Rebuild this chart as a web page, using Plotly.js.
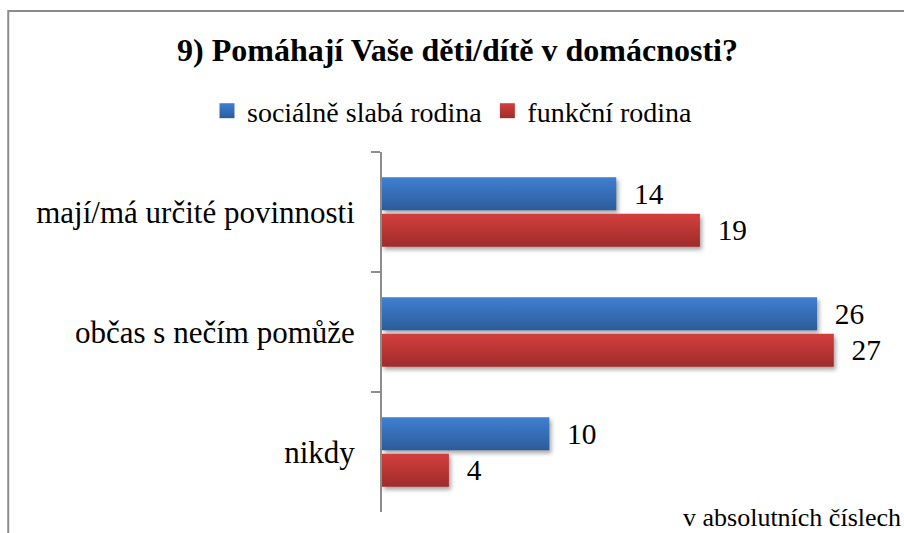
<!DOCTYPE html>
<html><head><meta charset="utf-8">
<script src="https://cdn.plot.ly/plotly-3.0.1.min.js"></script>
<style>
html,body{margin:0;padding:0;background:#fff}
#chart .bars path{filter:drop-shadow(2px 3px 2px rgba(0,0,0,0.35))}
</style>
</head><body>
<div id="chart" style="width:904px;height:533px"></div>
<script>
const categories = ["mají/má určité povinnosti", "občas s nečím pomůže", "nikdy"];
const socialneSlaba = [14, 26, 10];
const funkcni = [19, 27, 4];
const seriesNames = ["sociálně slabá rodina", "funkční rodina"];
const titleText = "9) Pomáhají Vaše děti/dítě v domácnosti?";
const footnote = "v absolutních číslech";

const serif = "Liberation Serif";
const L = 381.5, R = 884.5, T = 152, B = 512, W = 904, H = 533;
const px2x = p => (p - L) / (R - L);
const py2y = p => (B - p) / (B - T);

const mk = (name, vals, color) => ({
  type: "bar", orientation: "h", name: name, y: categories, x: vals,
  marker: {color: color},
  text: vals, texttemplate: "\u2002%{x}", textposition: "outside",
  textfont: {family: serif, size: 32, color: "#000"}, cliponaxis: false,
  hoverinfo: "skip"
});

const data = [mk(seriesNames[0], socialneSlaba, "#3670b8"), mk(seriesNames[1], funkcni, "#bc3634")];

const layout = {
  width: W, height: H,
  font: {family: serif},
  margin: {l: L, r: W - R, t: T, b: H - B, pad: 0},
  paper_bgcolor: "#fff", plot_bgcolor: "#fff",
  barmode: "group", bargap: 0.39, bargroupgap: 0.096,
  title: {text: "<b>" + titleText + "</b>", font: {family: serif, size: 32, color: "#000"},
          xref: "container", x: 457.5 / W, xanchor: "center", yref: "container", y: 1 - 50 / H, yanchor: "middle"},
  showlegend: true,
  legend: {orientation: "h", xref: "container", x: 207 / W, xanchor: "left", yref: "container", y: 1 - 111 / H, yanchor: "middle",
           font: {family: serif, size: 28, color: "#000"}, traceorder: "normal", itemgap: 20},
  xaxis: {range: [0, 30], visible: false, fixedrange: true},
  yaxis: {autorange: "reversed", type: "category", showline: true, linecolor: "#8c8c8c", linewidth: 2,
          ticks: "outside", tickson: "boundaries", ticklen: 9, tickwidth: 2, tickcolor: "#8c8c8c",
          ticklabelstandoff: 19, tickfont: {family: serif, size: 31, color: "#000"}, showgrid: false, zeroline: false},
  shapes: [{type: "rect", xref: "paper", yref: "paper", x0: px2x(7), x1: px2x(920), y0: py2y(545), y1: py2y(11),
            line: {color: "#8c8c8c", width: 2}, fillcolor: "rgba(0,0,0,0)", layer: "below"}],
  annotations: [{text: footnote, xref: "paper", yref: "paper", x: px2x(903), y: py2y(533), xanchor: "right", yanchor: "bottom",
                 showarrow: false, borderpad: 0, font: {family: serif, size: 26, color: "#000"}}]
};

Plotly.newPlot("chart", data, layout, {displayModeBar: false, staticPlot: true}).then(gd => {
  const ns = "http://www.w3.org/2000/svg";
  const svg = gd.querySelector(".main-svg");
  let defs = svg.querySelector("defs");
  if (!defs) { defs = document.createElementNS(ns, "defs"); svg.insertBefore(defs, svg.firstChild); }
  const grads = [["gradBlue", "#3f80d1", "#2c5c9b"], ["gradRed", "#d33f3d", "#9e2c2b"]];
  grads.forEach(([id, c1, c2]) => {
    const g = document.createElementNS(ns, "linearGradient");
    g.setAttribute("id", id); g.setAttribute("x1", "0"); g.setAttribute("y1", "0"); g.setAttribute("x2", "0"); g.setAttribute("y2", "1");
    [[0, c1], [1, c2]].forEach(([o, c]) => {
      const s = document.createElementNS(ns, "stop");
      s.setAttribute("offset", o); s.setAttribute("stop-color", c); g.appendChild(s);
    });
    defs.appendChild(g);
  });
  gd.querySelectorAll(".barlayer .trace.bars").forEach((tr, i) => {
    tr.querySelectorAll(".point path").forEach(p => { p.style.fill = "url(#" + grads[i][0] + ")"; });
  });
  gd.querySelectorAll(".legend .traces").forEach((tr, i) => {
    tr.querySelectorAll(".legendpoints path").forEach(p => {
      p.style.fill = "url(#" + grads[i][0] + ")";
      p.setAttribute("d", "M7.5,7.5H-7.5V-7.5H7.5Z");
    });
  });
});
</script>
</body></html>
